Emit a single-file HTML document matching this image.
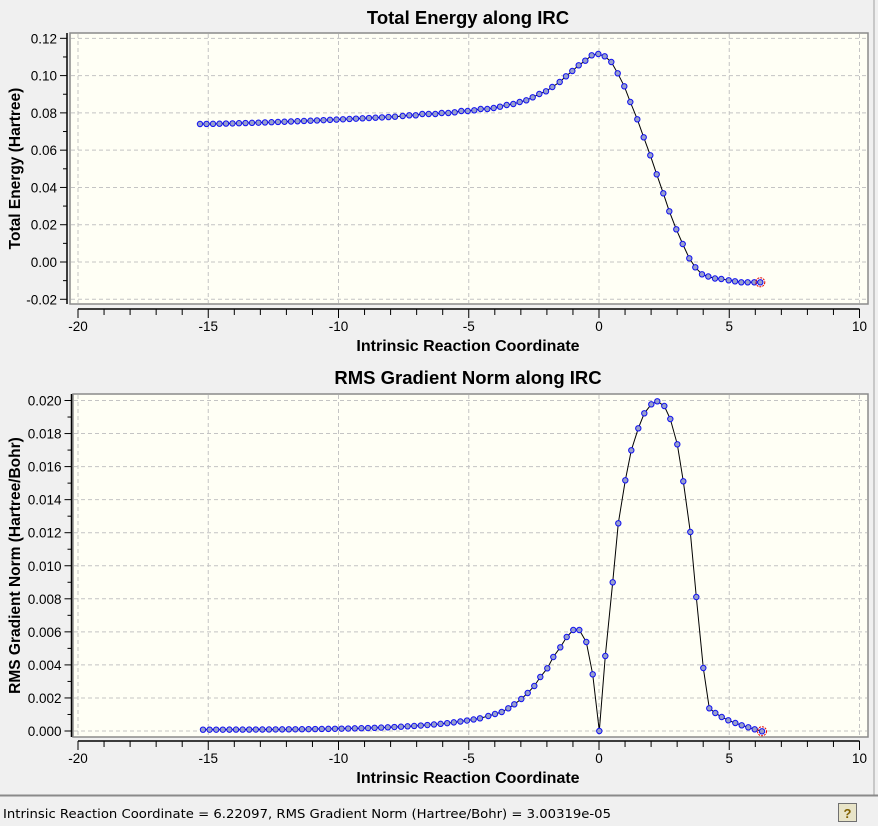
<!DOCTYPE html>
<html><head><meta charset="utf-8"><style>
html,body{margin:0;padding:0;background:#f0f0f0;width:878px;height:826px;overflow:hidden}
svg{display:block;font-family:"Liberation Sans",Arial,sans-serif}
</style></head><body>
<svg id="s" width="878" height="826" xmlns="http://www.w3.org/2000/svg"></svg>
<script>
const s=document.getElementById('s');let h='';
const X=v=>599+26.05*v;
function axes(o){
 // o: boxTop, boxBot, boxLeft, yAxisX, xAxisY, ymap, ymin, ymax, ystep, dec, title, titleY, ylabel, xlabelY
 h+=`<rect x="${o.bl}" y="${o.bt}" width="${868-o.bl}" height="${o.bb-o.bt}" fill="#fffff5" stroke="#8a8a8a" stroke-width="1.5"/>`;
 for(let v=-20;v<=10;v+=5)h+=`<line x1="${X(v)}" y1="${o.bt+1}" x2="${X(v)}" y2="${o.bb-1}" stroke="#c4c4c4" stroke-dasharray="4,3"/>`;
 const n=Math.round((o.ymax-o.ymin)/o.ystep);
 for(let i=0;i<=n;i++){const v=o.ymin+i*o.ystep,y=o.ym(v);
  h+=`<line x1="${o.bl+1}" y1="${y}" x2="867" y2="${y}" stroke="#c4c4c4" stroke-dasharray="4,3"/>`;
  h+=`<line x1="${o.ya-7}" y1="${y}" x2="${o.ya}" y2="${y}" stroke="#000"/>`;
  h+=`<text x="${o.ya-10}" y="${y+5}" font-size="13.5" text-anchor="end" fill="#000">${v.toFixed(o.dec)}</text>`;
  if(i<n){const ym=o.ym(v+o.ystep/2);h+=`<line x1="${o.ya-4}" y1="${ym}" x2="${o.ya}" y2="${ym}" stroke="#000"/>`;}
 }
 h+=`<line x1="${o.ya}" y1="${o.bt}" x2="${o.ya}" y2="${o.bb}" stroke="#000" stroke-width="1.5"/>`;
 h+=`<line x1="${X(-20)}" y1="${o.xa}" x2="${X(10)}" y2="${o.xa}" stroke="#000" stroke-width="1.5"/>`;
 for(let v=-20;v<=10;v++){const M=v%5==0;h+=`<line x1="${X(v)}" y1="${o.xa}" x2="${X(v)}" y2="${o.xa+(M?9:6)}" stroke="#000"/>`;
  if(M)h+=`<text x="${X(v)}" y="${o.xa+22}" font-size="13.5" text-anchor="middle">${v}</text>`;}
 h+=`<text x="468" y="${o.xa+42}" font-size="16" font-weight="bold" text-anchor="middle">Intrinsic Reaction Coordinate</text>`;
 h+=`<text x="468" y="${o.ty}" font-size="18.5" font-weight="bold" text-anchor="middle">${o.title}</text>`;
 h+=`<text transform="translate(20,${(o.bt+o.bb)/2}) rotate(-90)" font-size="15.5" font-weight="bold" text-anchor="middle">${o.yl}</text>`;
}
axes({bt:33,bb:304,bl:70,ya:67,xa:309,ym:v=>262-v*1864,ymin:-0.02,ymax:0.12,ystep:0.02,dec:2,title:'Total Energy along IRC',ty:24,yl:'Total Energy (Hartree)'});
axes({bt:394,bb:737,bl:73,ya:71.5,xa:741,ym:v=>731-v*16525,ymin:0,ymax:0.02,ystep:0.002,dec:3,title:'RMS Gradient Norm along IRC',ty:384,yl:'RMS Gradient Norm (Hartree/Bohr)'});
function series(pts){
 h+=`<polyline points="${pts.map(p=>p.join(',')).join(' ')}" fill="none" stroke="#000" stroke-width="1"/>`;
 pts.forEach((p,i)=>{h+=`<circle cx="${p[0]}" cy="${p[1]}" r="2.7" fill="#98a0cc" stroke="#1010f0" stroke-width="1"/>`;});
 const l=pts[pts.length-1];h+=`<circle cx="${l[0]}" cy="${l[1]}" r="4.5" fill="none" stroke="#e00000" stroke-width="1" stroke-dasharray="2,1"/>`;
}
let A=[];for(let x=200;x<400;x+=6.5){const t=(x-200)/203;A.push([x,124-7.7*Math.pow(t,1.4)]);}
A=A.concat([[402.7,116],[409.3,115.3],[415.7,115.3],[422.3,114],[428.7,114],[435.3,114],[441.7,113],[448.3,113],[454.7,112.3],[461.3,111],[467.7,111],[474.3,110.3],[480.7,109],[487.3,109],[493.7,108],[500,106.7],[506.7,105],[513.3,104],[519.7,102],[526.3,100.3],[532.7,97.3],[539.3,94],[546,91.3],[552.3,87],[559.7,82],[566,76.3],[572.3,71],[578.7,65.3],[585.3,60.7],[591.7,55.3],[598.3,54],[604.7,56.3],[611.3,62],[617.7,73.3],[624.3,86.3],[630.3,102],[637.3,119.3],[643.7,137.3],[650.3,155.3],[656.7,174.3],[663.3,193.3],[669.3,211.3],[676.3,229.3],[682.7,244],[689.3,258.3],[695.3,267.3],[702,274.3],[708.3,276.5],[715,278.5],[721.3,279],[728.7,280.3],[735,281.3],[741.3,282.3],[747.7,282.3],[754.3,282.3],[760.3,282.3]]);
series(A);
let B=[];for(let x=203;x<476;x+=6.6){B.push([x,729.8-11.5*Math.exp((x-480)/60)]);}
B=B.concat([[480,718.3],[488.3,716],[495,714],[501.7,712],[508.3,708.3],[514.3,704.3],[521.3,699],[527.7,693],[534.3,686],[540.3,677],[547.3,668.3],[553.3,657],[560.3,647.3],[566.7,637],[573.3,630],[579.3,630],[586.3,642],[592.7,674.3],[599.3,731],[605.3,656],[612.7,582.3],[618.3,523.3],[625.3,480.3],[631.3,450.3],[638.3,428.3],[644.3,413.3],[651.3,404.3],[657.3,401.3],[664.3,406],[670.3,419],[677.3,444.3],[683.3,481.3],[690.3,532],[696.3,597],[703.3,668],[709.3,708.3],[715.3,713],[721.7,717],[728.3,720.3],[735.3,723],[741.7,725.3],[748.3,727.3],[754.7,729.3],[762,731.3]]);
series(B);
h+=`<line x1="874" y1="0" x2="874" y2="795" stroke="#a0a0a0"/>`;
h+=`<line x1="0" y1="795.5" x2="878" y2="795.5" stroke="#8a8a8a" stroke-width="2"/>`;
h+=`<text x="3" y="818" font-size="12" font-family="DejaVu Sans,sans-serif" textLength="608" lengthAdjust="spacingAndGlyphs">Intrinsic Reaction Coordinate = 6.22097, RMS Gradient Norm (Hartree/Bohr) = 3.00319e-05</text>`;
h+=`<rect x="838.5" y="803.5" width="18" height="18" fill="#e8e4c8" stroke="#707070"/><text x="847.5" y="818" font-size="13" font-weight="bold" text-anchor="middle" fill="#806000">?</text>`;
s.innerHTML=h;
</script>
</body></html>
